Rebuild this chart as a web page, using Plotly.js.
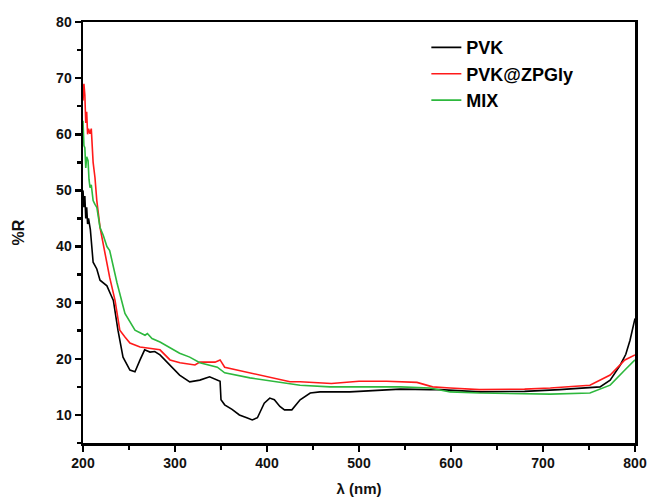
<!DOCTYPE html>
<html><head><meta charset="utf-8">
<script src="https://cdn.plot.ly/plotly-3.0.1.min.js"></script>
<style>body{margin:0;background:#fff}#c{width:647px;height:500px}</style>
</head><body><div id="c"></div>
<script>
const pvkX = [200,201,202,203,204,205,206,208,211,215,218.5,222,226,230,233,238,243.5,251,256.5,262,267,272.8,278,283.7,294.6,305,316,327,337.6,346,349,350,354,362,370,378,384,389.6,394,397,403,408,414,419,427,436,447,457.6,490,545,577,588,631.5,680,718,750,762,773,784,790,794.6,800];
const pvkY = [50,47,49,45,47,44,45,43,37.2,36,34,33.5,33,31.5,30.4,25.1,20.3,18,17.7,19.8,21.6,21.2,21.3,20.7,18.9,17.1,15.9,16.2,16.8,16.3,16,12.7,11.8,11,10,9.5,9.1,9.5,11,12.1,13,12.7,11.5,10.9,10.9,12.7,13.9,14.1,14.1,14.6,14.5,14.5,14.1,14.2,14.5,14.8,15,16.2,18.9,20.8,23.3,27.2];

const zpgX = [200,201,202,203,204,205,206,207.6,209,209.8,211,213,215,218.5,222,226,229,234.8,240,245.6,251,262,272.8,283.7,294.6,305.4,321.7,327,343.5,349,354,381.5,403,425,436,470,500,530,563,580,599,631,680,708,751,773,789,800];
const zpgY = [66,69,67,62,64,60,61,60.1,61,58.3,55,52.3,48.2,43.4,40.5,37.5,34.5,30.4,25.1,23.9,22.8,22.1,21.9,21.6,19.8,19.3,18.9,19.4,19.4,19.8,18.5,17.5,16.6,15.9,15.9,15.6,16,16,15.8,15,14.8,14.5,14.6,14.8,15.3,17.1,19.8,20.7];

const mixX = [200,201,202,203,204,205.5,206.5,207.6,209,211,213,215,218.5,222,226,229,237,245.6,256.5,267.4,270,272.8,275,283.7,294.6,305,316,327,346,354,381.5,414,436,468.5,545,577,599,631,708,751,773,789,800];
const mixY = [62.4,58,57.6,54,56,55.3,52,50.5,51,48.2,47.5,47,43.4,42,40,39.3,33.5,28.1,25.1,24.2,24.5,23.9,23.6,23,21.9,21,20.3,19.3,18.5,17.5,16.6,15.9,15.3,15,15,14.8,14.1,13.9,13.7,13.9,15.3,18,19.8];

const names = ['PVK','PVK@ZPGly','MIX'];
const colors = ['#000000','#ff1a1a','#2db83d'];
const xs = [pvkX, zpgX, mixX], ys = [pvkY, zpgY, mixY];

const traces = names.map((n,i)=>({x:xs[i], y:ys[i], name:n, type:'scatter', mode:'lines',
  line:{color:colors[i], width:1.6}}));

const FF = 'Liberation Sans, Arial, sans-serif';
const tickFont = {family:FF, size:14, color:'#111', weight:'bold'};
const layout = {
  width:647, height:500,
  margin:{l:83, r:12, t:22, b:57},
  paper_bgcolor:'#fff', plot_bgcolor:'#fff',
  showlegend:true,
  legend:{x:0.622, y:0.983, xanchor:'left', yanchor:'top', bgcolor:'rgba(0,0,0,0)',
    font:{family:FF, size:18, color:'#000', weight:'bold'},
    tracegroupgap:0},
  xaxis:{range:[200,800], dtick:100, tick0:200, showgrid:false, zeroline:false,
    showline:true, linewidth:2.5, linecolor:'#000', mirror:true,
    ticks:'outside', ticklen:6, tickwidth:2.5, tickcolor:'#000',
    minor:{dtick:50, ticks:'outside', ticklen:4, tickwidth:2.5, tickcolor:'#000'},
    tickfont:tickFont,
    title:{text:'λ (nm)', font:{family:FF, size:15, color:'#111', weight:'bold'}, standoff:13}},
  yaxis:{range:[5,80], dtick:10, tick0:0, showgrid:false, zeroline:false,
    showline:true, linewidth:2.5, linecolor:'#000', mirror:true,
    ticks:'outside', ticklen:6, tickwidth:2.5, tickcolor:'#000',
    minor:{dtick:5, ticks:'outside', ticklen:4, tickwidth:2.5, tickcolor:'#000'},
    tickfont:tickFont,
    title:{text:'%R', font:{family:FF, size:16, color:'#111', weight:'bold'}, standoff:28}}
};
Plotly.newPlot('c', traces, layout, {displayModeBar:false, staticPlot:true});
</script></body></html>
